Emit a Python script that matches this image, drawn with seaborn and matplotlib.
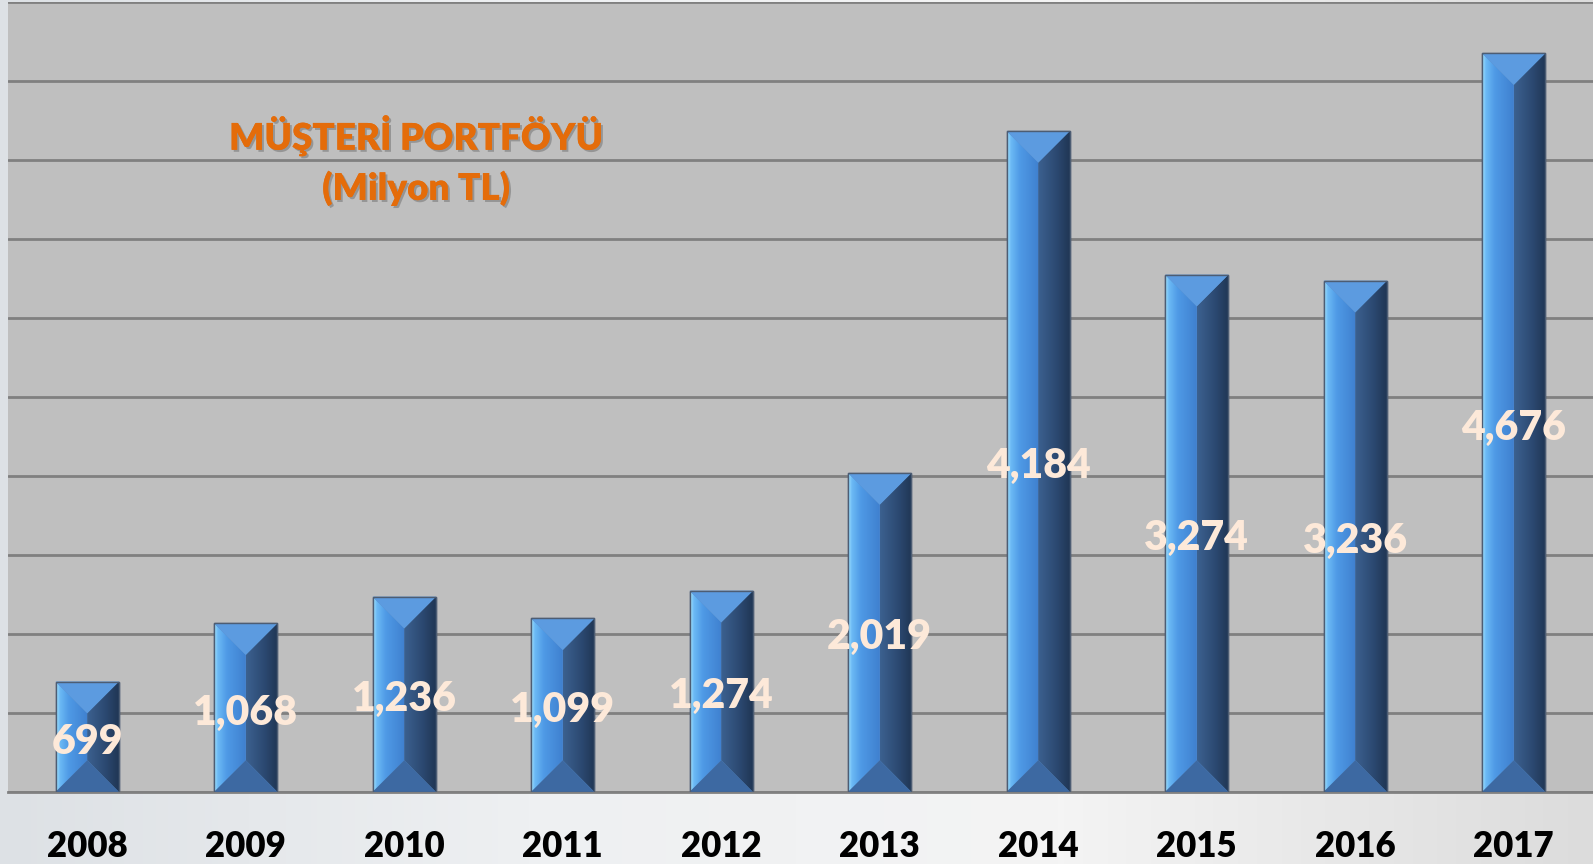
import matplotlib
matplotlib.use("Agg")
import matplotlib.pyplot as plt
import matplotlib.patheffects as pe
import matplotlib.transforms as mtransforms
from matplotlib.colors import LinearSegmentedColormap
from matplotlib.patches import Polygon
import numpy as np
import seaborn as sns

years = ["2008", "2009", "2010", "2011", "2012", "2013", "2014", "2015", "2016", "2017"]
values = [699, 1068, 1236, 1099, 1274, 2019, 4184, 3274, 3236, 4676]
value_labels = ["699", "1,068", "1,236", "1,099", "1,274", "2,019", "4,184", "3,274", "3,236", "4,676"]
title_lines = ["MÜŞTERİ PORTFÖYÜ", "(Milyon TL)"]

sns.set_style("white")
plt.rcParams["font.family"] = ["Lato", "DejaVu Sans"]

W, H = 1593, 864
fig = plt.figure(figsize=(W / 100, H / 100), dpi=100)
fig.patch.set_facecolor("#e3e5e8")

# soft gradient under the year labels
bg = fig.add_axes([0, 0, 1, 1], zorder=-5)
bg.axis("off")
grad = np.linspace(0, 1, 256).reshape(1, -1)
bg_cmap = LinearSegmentedColormap.from_list("bg", ["#dde1e5", "#eef0f2", "#f4f4f4", "#dcdcdc"])
bg.imshow(grad, cmap=bg_cmap, aspect="auto", extent=[0, 1, 0, 1])

ax = fig.add_axes([8 / W, 1 - 792 / H, 1 - 8 / W, 790 / H])
ax.set_facecolor("#bfbfbf")

sns.barplot(x=years, y=values, color="#4a8fd9", width=0.4, ax=ax,
            edgecolor="#4d5d73", linewidth=1.0, zorder=2)

ax.set_xlim(-0.5, 9.5)
ax.set_ylim(0, 5000)
ax.set_yticks(np.arange(0, 5001, 500))
ax.yaxis.grid(True, color="#808080", linewidth=2)
ax.set_axisbelow(True)
ax.tick_params(axis="y", left=False, labelleft=False)
ax.tick_params(axis="x", bottom=False, pad=24)
ax.set_xlabel("")
ax.set_ylabel("")
for s in ["top", "left", "right"]:
    ax.spines[s].set_visible(False)
ax.spines["bottom"].set_color("#808080")
ax.spines["bottom"].set_linewidth(2)
for lab in ax.get_xticklabels():
    lab.set_fontsize(25)
    lab.set_fontweight("heavy")
    lab.set_color("black")

# bevel faces on each bar
left_cmap = LinearSegmentedColormap.from_list(
    "l", [(0, "#a6e6ff"), (0.12, "#6cbaf5"), (0.4, "#4f9ae6"), (1, "#3f80cf")])
right_cmap = LinearSegmentedColormap.from_list(
    "r", [(0, "#3c6190"), (0.6, "#2b4870"), (1, "#203654")])
top_color = "#5c9be0"
bottom_color = "#3d69a2"

px_x = ax.transData.transform((1, 0))[0] - ax.transData.transform((0, 0))[0]
px_y = ax.transData.transform((0, 1))[1] - ax.transData.transform((0, 0))[1]

for bar in ax.patches:
    x0 = bar.get_x()
    w = bar.get_width()
    h = bar.get_height()
    x1 = x0 + w
    xc = x0 + w / 2
    d = (w * px_x / 2) / px_y
    faces = [
        ([(x0, h), (xc, h - d), (xc, d), (x0, 0)], left_cmap, x0, xc),
        ([(x1, h), (xc, h - d), (xc, d), (x1, 0)], right_cmap, xc, x1),
    ]
    for pts, cmap, a, b in faces:
        poly = Polygon(pts, closed=True, facecolor="none", edgecolor="none", zorder=3)
        ax.add_patch(poly)
        im = ax.imshow(grad, cmap=cmap, aspect="auto", extent=[a, b, 0, h], zorder=3)
        im.set_clip_path(poly)
    ax.add_patch(Polygon([(x0, h), (x1, h), (xc, h - d)], closed=True,
                         facecolor=top_color, edgecolor="none", zorder=3))
    ax.add_patch(Polygon([(x0, 0), (x1, 0), (xc, d)], closed=True,
                         facecolor=bottom_color, edgecolor="none", zorder=3))
    ax.add_patch(Polygon([(x0, 0), (x0, h), (x1, h), (x1, 0)], closed=True,
                         facecolor="none", edgecolor="#4d5d73", linewidth=1.0, zorder=4))

ax.set_xlim(-0.5, 9.5)
ax.set_ylim(0, 5000)

label_trans = mtransforms.offset_copy(ax.transData, fig=fig, x=0, y=-5, units="dots")
for i, (v, lab) in enumerate(zip(values, value_labels)):
    ax.text(i, v / 2, lab, ha="center", va="center", fontsize=29.5,
            fontweight="heavy", color="#fde9d9", zorder=5, transform=label_trans)

shadow = [pe.withSimplePatchShadow(offset=(1.5, -1.5), shadow_rgbFace="#7a7a7a", alpha=0.6), pe.Normal()]
fig.text(416 / W, 1 - 135 / H, title_lines[0], ha="center", va="center", fontsize=26.5,
         fontweight="heavy", color="#e46c0a", path_effects=shadow)
fig.text(416 / W, 1 - 188 / H, title_lines[1], ha="center", va="center", fontsize=26.5,
         fontweight="heavy", color="#e46c0a", path_effects=shadow)

fig.savefig("out.png", dpi=100, facecolor=fig.get_facecolor())
